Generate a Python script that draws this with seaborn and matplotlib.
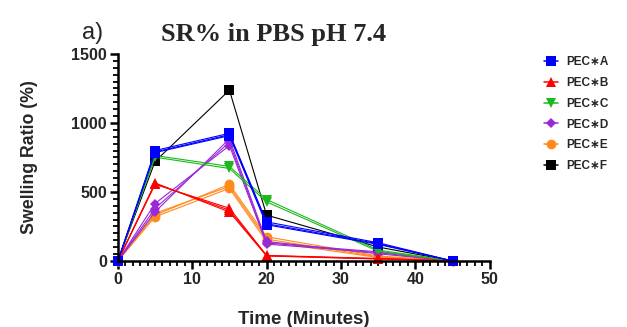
import pandas as pd
import matplotlib.pyplot as plt
import seaborn as sns

# Time points (minutes)
time = [0, 5, 15, 20, 35, 45]

# Replicate curves
pec_a = [[0, 800, 925, 283, 132, 0], [0, 790, 915, 270, 125, 0], [0, 785, 908, 262, 120, 0]]
pec_b = [[0, 565, 355, 36, 14, 0], [0, 560, 368, 38, 16, 0], [0, 555, 382, 40, 18, 0]]
pec_c = [[0, 764, 685, 445, 79, 0], [0, 752, 670, 428, 70, 0]]
pec_d = [[0, 416, 836, 122, 60, 0], [0, 355, 885, 141, 52, 0], [0, 380, 860, 130, 66, 0]]
pec_e = [[0, 332, 555, 175, 36, 0], [0, 345, 540, 158, 30, 0], [0, 320, 526, 140, 25, 0]]
pec_f = [[0, 721, 1238, 332, 101, 0]]

names = ["PEC∗A", "PEC∗B", "PEC∗C", "PEC∗D", "PEC∗E", "PEC∗F"]
series = [pec_a, pec_b, pec_c, pec_d, pec_e, pec_f]
colors = ["#0000FF", "#FF0000", "#1DB81D", "#9A27D8", "#FF8A1C", "#000000"]
markers = ["s", "^", "v", "D", "o", "s"]
msizes = [7, 7, 7, 5, 7, 7]

rows = []
for name, reps in zip(names, series):
    for r, vals in enumerate(reps):
        for t, v in zip(time, vals):
            rows.append({"Group": name, "Rep": r, "Time": t, "SR": v})
df = pd.DataFrame(rows)

sns.set_style("ticks")
plt.rcParams["font.family"] = ["Liberation Sans", "DejaVu Sans"]

fig = plt.figure(figsize=(6.27, 3.27), dpi=100)
ax = fig.add_axes([0.188, 0.202, 0.593, 0.633])

# draw F first so A sits on top
for name, col, mk, ms in reversed(list(zip(names, colors, markers, msizes))):
    sub = df[df["Group"] == name]
    sns.lineplot(data=sub, x="Time", y="SR", units="Rep", estimator=None,
                 color=col, marker=mk, markersize=ms, markeredgewidth=0,
                 linewidth=0.8, ax=ax, clip_on=False, legend=False)

ax.set_xlim(0, 50)
ax.set_ylim(0, 1500)
ax.set_xticks(range(0, 51, 10))
ax.set_xticks(range(0, 51, 1), minor=True)
ax.set_yticks(range(0, 1501, 500))
ax.set_yticks(range(0, 1501, 50), minor=True)
ax.tick_params(which="major", length=6, width=1.8, labelsize=11.5, pad=2, color="black")
ax.tick_params(which="minor", length=3.5, width=1.3, color="black", bottom=True, left=True)
for lab in ax.get_xticklabels() + ax.get_yticklabels():
    lab.set_fontweight("bold")
sns.despine(ax=ax)
for s in ["left", "bottom"]:
    ax.spines[s].set_linewidth(1.8)
    ax.spines[s].set_color("black")

ax.set_xlabel("Time (Minutes)", fontsize=13.5, fontweight="bold", labelpad=17)
ax.set_ylabel("Swelling Ratio (%)", fontsize=12.8, fontweight="bold", labelpad=24)

# legend
handles = [plt.Line2D([], [], color=c, marker=m, markersize=ms, markeredgewidth=0, linewidth=1.1)
           for c, m, ms in zip(colors, markers, msizes)]
fig.legend(handles, names, loc="upper left", bbox_to_anchor=(0.85, 0.86), frameon=False,
           prop={"weight": "bold", "size": 8.5}, handlelength=1.2, handletextpad=0.7,
           labelspacing=0.74)

fig.text(0.147, 0.9, "a)", fontsize=17, ha="center", va="center", family="Liberation Sans")
fig.text(0.437, 0.895, "SR% in PBS pH 7.4", fontsize=19, fontweight="bold",
         ha="center", va="center", family="Liberation Serif")

fig.savefig("out.png", dpi=100)
